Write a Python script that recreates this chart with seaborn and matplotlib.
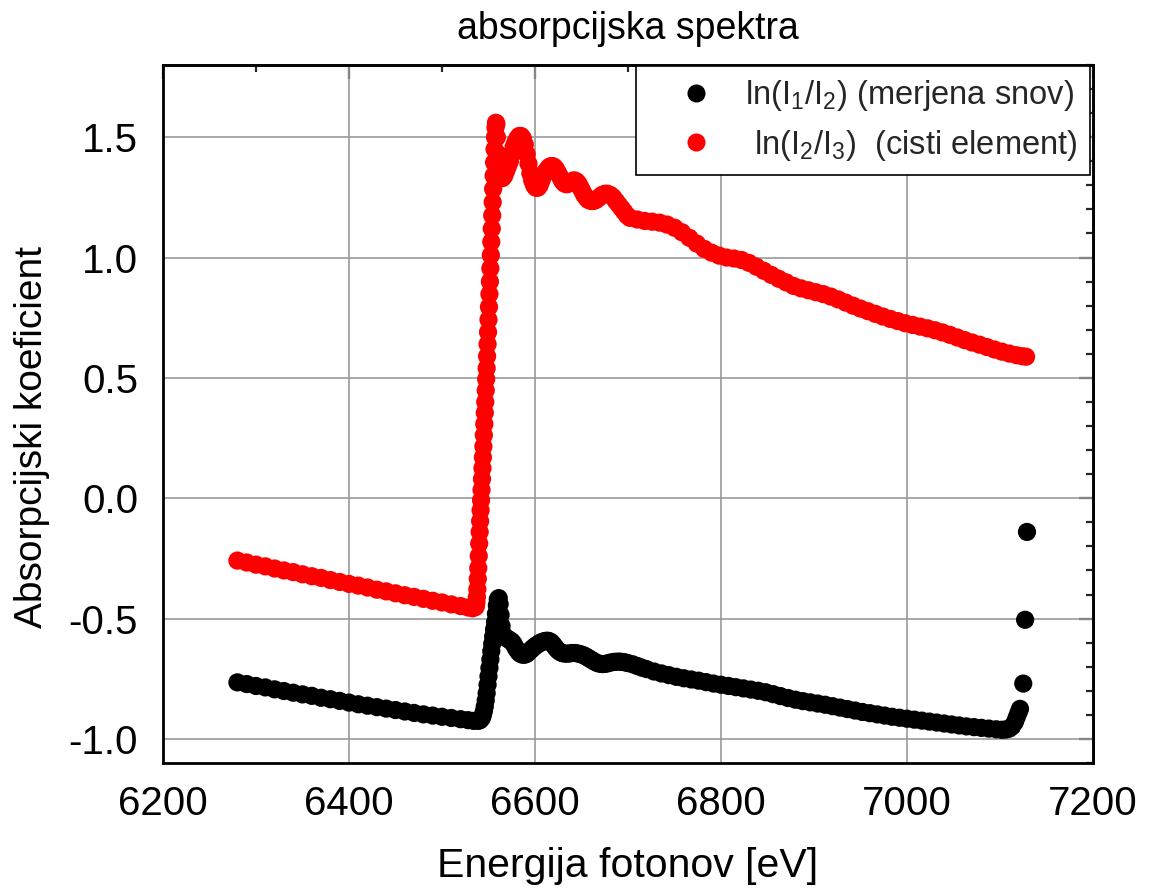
import matplotlib
matplotlib.use("Agg")
import matplotlib.pyplot as plt
import numpy as np
import pandas as pd
import seaborn as sns
from matplotlib.lines import Line2D
from matplotlib.ticker import MultipleLocator, FuncFormatter

# ---------------------------------------------------------------------------
# Measured absorption spectra: ln(I1/I2) of the sample and ln(I2/I3) of the
# pure element reference foil, as a function of photon energy [eV].
# ---------------------------------------------------------------------------
sample_energy = [
    6280, 6290, 6300, 6310, 6320, 6330, 6340, 6350, 6360, 6370, 6380, 6390,
    6400, 6410, 6420, 6430, 6440, 6450, 6460, 6470, 6480, 6490, 6500, 6510,
    6520, 6528, 6534, 6539, 6541, 6543, 6544, 6545, 6546, 6547, 6548, 6549,
    6550, 6551, 6552, 6553, 6554, 6555, 6556, 6557, 6558, 6559, 6560, 6561,
    6562, 6563, 6564, 6565, 6567, 6569, 6571, 6573, 6575, 6577, 6579, 6581,
    6583, 6585, 6587, 6589, 6591, 6593, 6595, 6597, 6599, 6601, 6603, 6605,
    6607, 6609, 6611, 6613, 6615, 6617, 6619, 6621, 6623, 6625, 6627, 6629,
    6631, 6634, 6637, 6640, 6643, 6646, 6649, 6652, 6655, 6658, 6661, 6664,
    6667, 6670, 6673, 6676, 6679, 6682, 6685, 6688, 6691, 6694, 6697, 6700,
    6705, 6710, 6715, 6720, 6728, 6736, 6744, 6752, 6760, 6768, 6776, 6784,
    6792, 6800, 6808, 6816, 6824, 6832, 6840, 6848, 6856, 6864, 6872, 6880,
    6888, 6896, 6904, 6912, 6920, 6928, 6936, 6944, 6952, 6960, 6968, 6976,
    6984, 6992, 7000, 7008, 7016, 7024, 7032, 7040, 7048, 7056, 7064, 7072,
    7080, 7088, 7096, 7102, 7106, 7110, 7113, 7116, 7118, 7120, 7121.5, 7125,
    7127, 7129,
]
sample_mu = [
    -0.765, -0.772, -0.780, -0.786, -0.794, -0.801, -0.808, -0.815, -0.821, -0.829, -0.835, -0.842,
    -0.849, -0.856, -0.862, -0.868, -0.874, -0.880, -0.886, -0.892, -0.898, -0.903, -0.908, -0.913,
    -0.918, -0.922, -0.925, -0.925, -0.922, -0.912, -0.900, -0.885, -0.865, -0.840, -0.810, -0.775,
    -0.740, -0.705, -0.670, -0.635, -0.605, -0.575, -0.545, -0.515, -0.480, -0.445, -0.420, -0.415,
    -0.440, -0.485, -0.530, -0.560, -0.575, -0.580, -0.585, -0.590, -0.595, -0.605, -0.620, -0.632,
    -0.642, -0.648, -0.650, -0.650, -0.647, -0.640, -0.632, -0.625, -0.618, -0.612, -0.607, -0.602,
    -0.598, -0.595, -0.593, -0.592, -0.593, -0.597, -0.605, -0.615, -0.625, -0.633, -0.639, -0.643,
    -0.645, -0.646, -0.645, -0.643, -0.643, -0.645, -0.648, -0.652, -0.658, -0.665, -0.672, -0.679,
    -0.685, -0.688, -0.689, -0.688, -0.685, -0.682, -0.680, -0.679, -0.679, -0.680, -0.682, -0.685,
    -0.690, -0.697, -0.704, -0.710, -0.720, -0.728, -0.735, -0.742, -0.748, -0.753, -0.758, -0.764,
    -0.770, -0.775, -0.780, -0.785, -0.790, -0.795, -0.800, -0.806, -0.814, -0.822, -0.830, -0.837,
    -0.843, -0.848, -0.853, -0.858, -0.864, -0.870, -0.876, -0.882, -0.888, -0.893, -0.898, -0.903,
    -0.908, -0.912, -0.916, -0.920, -0.924, -0.928, -0.932, -0.936, -0.940, -0.944, -0.948, -0.951,
    -0.954, -0.957, -0.960, -0.962, -0.961, -0.957, -0.948, -0.930, -0.910, -0.890, -0.875, -0.770,
    -0.505, -0.140,
]

reference_energy = [
    6280, 6290, 6300, 6310, 6320, 6330, 6340, 6350, 6360, 6370, 6380, 6390,
    6400, 6410, 6420, 6430, 6440, 6450, 6460, 6470, 6480, 6490, 6500, 6510,
    6520, 6528, 6533, 6536.0, 6536.5, 6537.0, 6537.5, 6538.0, 6538.5, 6539.0,
    6539.5, 6540.0, 6540.5, 6541.0, 6541.5, 6542.0, 6542.5, 6543.0, 6543.5,
    6544.0, 6544.5, 6545.0, 6545.5, 6546.0, 6546.5, 6547.0, 6547.5, 6548.0,
    6548.5, 6549.0, 6549.5, 6550.0, 6550.5, 6551.0, 6551.5, 6552.0, 6552.5,
    6553.0, 6553.5, 6554.0, 6554.5, 6555.0, 6555.5, 6556.0, 6556.5, 6557.0,
    6557.5, 6558.0, 6558.5, 6559, 6560, 6561, 6562, 6563, 6565, 6567, 6569,
    6571, 6573, 6575, 6577, 6579, 6581, 6583, 6585, 6587, 6589, 6591, 6593,
    6595, 6597, 6599, 6601, 6603, 6605, 6607, 6609, 6611, 6613, 6615, 6617,
    6619, 6621, 6623, 6625, 6627, 6629, 6631, 6633, 6635, 6637, 6639, 6641,
    6643, 6645, 6647, 6649, 6651, 6653, 6655, 6657, 6660, 6663, 6666, 6669,
    6672, 6675, 6678, 6681, 6684, 6687, 6690, 6693, 6696, 6699, 6702, 6710,
    6718, 6726, 6734, 6742, 6750, 6758, 6766, 6774, 6782, 6790, 6798, 6806,
    6814, 6822, 6830, 6838, 6846, 6854, 6862, 6870, 6878, 6886, 6894, 6902,
    6910, 6918, 6926, 6934, 6942, 6950, 6958, 6966, 6974, 6982, 6990, 6998,
    7006, 7014, 7022, 7030, 7038, 7046, 7054, 7062, 7070, 7078, 7086, 7094,
    7102, 7110, 7118, 7124, 7128,
]
reference_mu = [
    -0.259, -0.267, -0.276, -0.283, -0.292, -0.300, -0.307, -0.316, -0.324, -0.331, -0.340, -0.348,
    -0.356, -0.363, -0.371, -0.380, -0.387, -0.395, -0.403, -0.410, -0.418, -0.426, -0.433, -0.441,
    -0.448, -0.454, -0.457, -0.452, -0.445, -0.432, -0.410, -0.378, -0.335, -0.290,
    -0.240, -0.188, -0.140, -0.095, -0.050, -0.008, 0.035, 0.080, 0.125,
    0.170, 0.215, 0.262, 0.308, 0.355, 0.400, 0.448, 0.495, 0.540,
    0.590, 0.640, 0.690, 0.742, 0.795, 0.848, 0.900, 0.955, 1.010,
    1.065, 1.120, 1.175, 1.230, 1.285, 1.340, 1.395, 1.450, 1.500,
    1.540, 1.560, 1.555, 1.500, 1.430, 1.380, 1.350, 1.335, 1.330, 1.340, 1.360,
    1.380, 1.400, 1.430, 1.460, 1.480, 1.495, 1.505, 1.505, 1.495, 1.470, 1.430, 1.390,
    1.350, 1.320, 1.300, 1.290, 1.290, 1.300, 1.320, 1.340, 1.355, 1.365, 1.375, 1.380,
    1.380, 1.375, 1.365, 1.350, 1.335, 1.320, 1.310, 1.305, 1.305, 1.310, 1.315, 1.320,
    1.320, 1.315, 1.305, 1.290, 1.275, 1.260, 1.250, 1.240, 1.235, 1.235, 1.240, 1.250,
    1.260, 1.265, 1.265, 1.260, 1.250, 1.235, 1.220, 1.205, 1.190, 1.175, 1.165, 1.158,
    1.152, 1.149, 1.145, 1.137, 1.124, 1.105, 1.082, 1.058, 1.036, 1.020, 1.008, 1.000,
    0.996, 0.990, 0.978, 0.962, 0.945, 0.928, 0.912, 0.897, 0.882, 0.872, 0.864, 0.856,
    0.848, 0.838, 0.826, 0.813, 0.800, 0.788, 0.777, 0.766, 0.755, 0.745, 0.736, 0.727,
    0.720, 0.713, 0.706, 0.698, 0.689, 0.679, 0.668, 0.657, 0.647, 0.638, 0.628, 0.618,
    0.609, 0.601, 0.594, 0.590, 0.588,
]

series_labels = [
    r"ln(I$_\mathregular{1}$/I$_\mathregular{2}$) (merjena snov)",
    r" ln(I$_\mathregular{2}$/I$_\mathregular{3}$)  (cisti element)",
]
series_colors = ["#000000", "#ff0000"]

x_ticks = [6200, 6400, 6600, 6800, 7000, 7200]
y_ticks = [-1.0, -0.5, 0.0, 0.5, 1.0, 1.5]

df = pd.concat(
    [
        pd.DataFrame({"energija": sample_energy, "mu": sample_mu, "serija": series_labels[0]}),
        pd.DataFrame({"energija": reference_energy, "mu": reference_mu, "serija": series_labels[1]}),
    ],
    ignore_index=True,
)

sns.set_theme(style="white")
plt.rcParams["font.family"] = ["Liberation Sans", "DejaVu Sans"]
plt.rcParams["mathtext.fontset"] = "custom"
plt.rcParams["mathtext.rm"] = "Liberation Sans"
plt.rcParams["axes.unicode_minus"] = False

fig = plt.figure(figsize=(11.51, 8.88), dpi=100)
ax = fig.add_axes([0.14162, 0.14077, 0.80799, 0.78604])

sns.scatterplot(
    data=df, x="energija", y="mu", hue="serija",
    palette=dict(zip(series_labels, series_colors)),
    s=172, linewidth=0, legend=False, ax=ax, zorder=3,
)

ax.set_xlim(6200, 7200)
ax.set_ylim(-1.1, 1.8)
ax.set_xticks(x_ticks)
ax.set_yticks(y_ticks)
ax.xaxis.set_minor_locator(MultipleLocator(100))
ax.yaxis.set_minor_locator(MultipleLocator(0.1))
ax.yaxis.set_major_formatter(FuncFormatter(lambda v, _: f"{v:.1f}"))

ax.grid(True, which="major", color="#999999", linewidth=1.2)
ax.set_axisbelow(True)
for sp in ax.spines.values():
    sp.set_color("black")
    sp.set_linewidth(2.0)

ax.tick_params(which="major", direction="out", length=10, width=1.6,
               labelsize=29, colors="black", top=False, right=False, pad=6)
ax.tick_params(which="minor", direction="out", length=5, width=1.6,
               top=False, right=False)
ax.tick_params(axis="y", pad=8)

# mirrored inward ticks on the top and right frame
top = ax.secondary_xaxis("top")
top.set_xticks(x_ticks)
top.xaxis.set_minor_locator(MultipleLocator(100))
top.tick_params(which="major", direction="in", length=10, width=1.6, labeltop=False)
top.tick_params(which="minor", direction="in", length=5, width=1.6)
top.spines["top"].set_linewidth(2.0)

right = ax.secondary_yaxis("right")
right.set_yticks(y_ticks)
right.yaxis.set_minor_locator(MultipleLocator(0.1))
right.tick_params(which="major", direction="in", length=10, width=1.6, labelright=False)
right.tick_params(which="minor", direction="in", length=5, width=1.6)
right.spines["right"].set_linewidth(2.0)

ax.set_xlabel("Energija fotonov [eV]", fontsize=29.5, labelpad=17, color="black")
ax.set_ylabel("Absorpcijski koeficient", fontsize=28, color="black")
ax.yaxis.set_label_coords(-0.122, 0.467)
ax.set_title("absorpcijska spektra", fontsize=27, pad=19, color="black")

handles = [
    Line2D([], [], marker="o", linestyle="none", markersize=13,
           markerfacecolor=c, markeredgewidth=0)
    for c in series_colors
]
leg = ax.legend(
    handles, series_labels, loc="upper right", bbox_to_anchor=(0.997, 0.999),
    borderaxespad=0, fontsize=23.5, frameon=True, fancybox=False,
    edgecolor="black", framealpha=1, handlelength=2.9, handletextpad=0.07,
    borderpad=0.38, labelspacing=0.45,
)
leg.get_frame().set_linewidth(1.2)
leg.set_zorder(5)

fig.savefig("out.png", dpi=100, facecolor="white")
